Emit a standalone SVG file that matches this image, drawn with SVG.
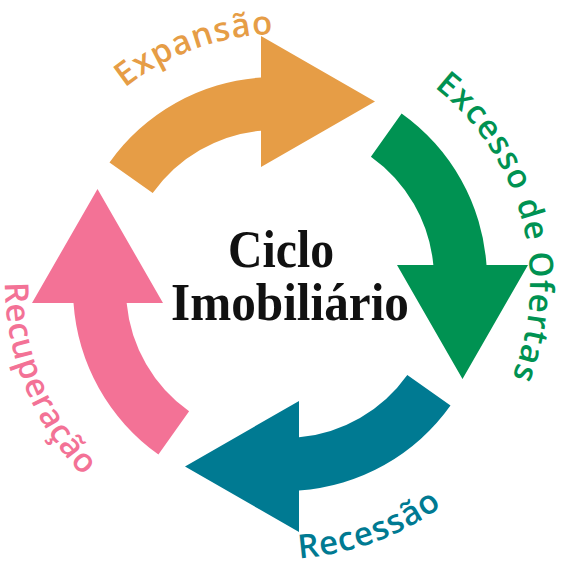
<svg xmlns="http://www.w3.org/2000/svg" xmlns:xlink="http://www.w3.org/1999/xlink" width="564" height="562" viewBox="0 0 564 562">
<style>
.lbl{font-family:"Open Sans","Liberation Sans",sans-serif;font-weight:600;font-size:33px}
.ctr{font-family:"Liberation Serif","Times New Roman",serif;font-weight:bold;font-size:53px;fill:#111111}
</style>
<defs>
<path id="arrow" d="M109.5 162.4 A203 203 0 0 1 261 77.5 L261 36 L375 101.5 L261 167 L261 130.65 A150 150 0 0 0 152.7 193.1 Z"/>
<path id="pExp" d="M63.5 159 A250 250 0 0 1 365.5 49.1"/>
<path id="pExc" d="M344.7 42.5 A250 250 0 0 1 456.8 460.8"/>
<path id="pRec" d="M185.9 542.4 A275 275 0 0 0 518.2 421.5"/>
<path id="pRecup" d="M41.8 146.5 A275 275 0 0 0 204.2 548.4"/>
</defs>
<rect width="564" height="562" fill="#ffffff"/>
<g id="connectors">
<use xlink:href="#arrow" fill="#E69D46"/>
<use xlink:href="#arrow" fill="#009252" transform="rotate(90 280 284)"/>
<use xlink:href="#arrow" fill="#007A92" transform="rotate(180 280 284)"/>
<use xlink:href="#arrow" fill="#F37296" transform="rotate(270 280 284)"/>
</g>
<g id="expansao">
<text class="lbl" fill="#E69D46"><textPath xlink:href="#pExp" startOffset="50%" text-anchor="middle" textLength="160">Expansão</textPath></text>
</g>
<g id="excesso">
<text class="lbl" fill="#009252"><textPath xlink:href="#pExc" startOffset="50%" text-anchor="middle" textLength="322">Excesso de Ofertas</textPath></text>
</g>
<g id="recessao">
<text class="lbl" fill="#007A92"><textPath xlink:href="#pRec" startOffset="50%" text-anchor="middle" textLength="154">Recessão</textPath></text>
</g>
<g id="recuperacao">
<text class="lbl" fill="#F37296"><textPath xlink:href="#pRecup" startOffset="50%" text-anchor="middle" textLength="214">Recuperação</textPath></text>
</g>
<g id="centro">
<text class="ctr" x="281" y="267" text-anchor="middle" textLength="106" lengthAdjust="spacingAndGlyphs">Ciclo</text>
<text class="ctr" x="290" y="320" text-anchor="middle" textLength="238" lengthAdjust="spacingAndGlyphs">Imobiliário</text>
</g>
</svg>
